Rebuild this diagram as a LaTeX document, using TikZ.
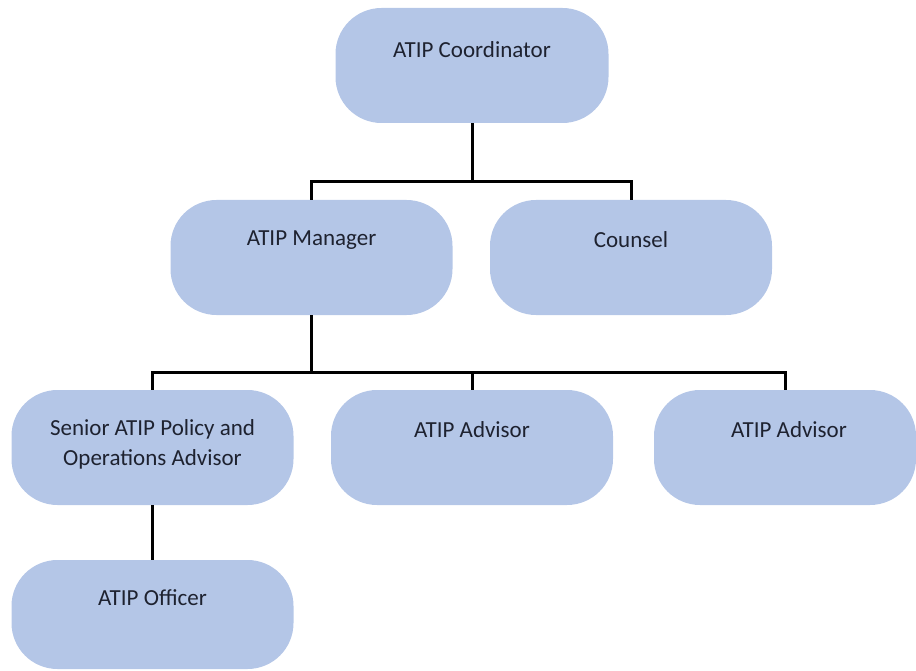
\documentclass[tikz,border=0pt]{standalone}
\usepackage{fontspec}
\setmainfont{Carlito}
\usetikzlibrary{calc}
\definecolor{boxfill}{RGB}{180,198,231}
\definecolor{boxtext}{RGB}{30,34,48}
\tikzset{
  orgbox/.style={rectangle, rounded corners=46pt, fill=boxfill, draw=none,
    minimum width=282pt, minimum height=115pt, inner sep=0pt},
  orgtext/.style={text=boxtext, font=\fontsize{23}{30}\selectfont, align=center, inner sep=0pt},
  link/.style={line width=3pt, black}
}
\begin{document}
\begin{tikzpicture}[x=1pt,y=-1pt]
\useasboundingbox (0,0) rectangle (916,671);
% boxes
\node[orgbox, minimum width=273pt] (coord) at (472,65.5) {};
\node[orgbox] (man) at (311.5,257.5) {};
\node[orgbox] (coun) at (631,257.5) {};
\node[orgbox] (sen) at (152.5,447.5) {};
\node[orgbox] (adv1) at (472,447.5) {};
\node[orgbox, minimum width=262pt] (adv2) at (785,447.5) {};
\node[orgbox, minimum height=109pt] (off) at (152.5,614.5) {};
% texts
\node[orgtext] (tcoord) at ($(coord.north)+(0,42)$) {ATIP Coordinator};
\node[orgtext] (tman) at ($(man.north)+(0,40)$) {ATIP Manager};
\node[orgtext] (tcoun) at ($(coun.north)+(0,40)$) {Counsel};
\node[orgtext] (tsen) at ($(sen.north)+(0,55)$) {Senior ATIP Policy and\\Operations Advisor};
\node[orgtext] (tadv1) at ($(adv1.north)+(0,40)$) {ATIP Advisor};
\node[orgtext] (tadv2) at ($(adv2.north)+(4,40)$) {ATIP Advisor};
\node[orgtext] (toff) at ($(off.north)+(0,38)$) {ATIP Officer};
% connectors
\coordinate (bus1) at (472,182);
\coordinate (bus2) at (311.5,372);
\draw[link] (coord.south) -- (bus1);
\draw[link] (man.north) |- (bus1) -| (coun.north);
\draw[link] (man.south) -- (bus2);
\draw[link] (sen.north) |- (bus2) -| (adv2.north);
\draw[link] (adv1.north) -- (adv1.north |- bus2);
\draw[link] (sen.south) -- (off.north);
\end{tikzpicture}
\end{document}
